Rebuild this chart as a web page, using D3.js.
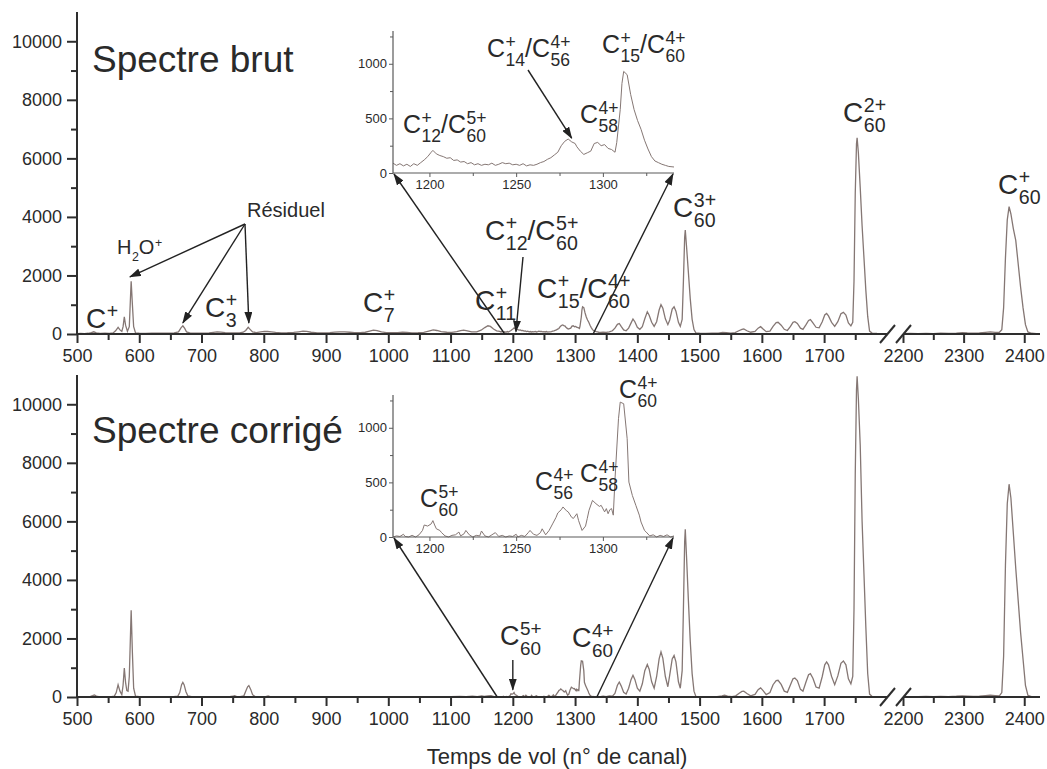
<!DOCTYPE html>
<html><head><meta charset="utf-8">
<script src="https://cdn.jsdelivr.net/npm/d3@7"></script>
<style>
body{margin:0;background:#fff}
text{font-family:"Liberation Sans",Arial,Helvetica,sans-serif;fill:#2a2a2a}
</style>
</head><body>
<svg id="c" width="1047" height="769"></svg>
<script>
// ---------------- DATA ----------------
const xTickMajor = [500,600,700,800,900,1000,1100,1200,1300,1400,1500,1600,1700,2200,2300,2400];
const xTickMinor = [550,650,750,850,950,1050,1150,1250,1350,1450,1550,1650,1750,2250,2350];
const yTickMajor = [0,2000,4000,6000,8000,10000];
const yTickMinor = [1000,3000,5000,7000,9000];
const insetXTicks = [1200,1250,1300];
const insetXMinor = [1225,1275,1325];
const insetYTicks = [0,500,1000];
const insetYMinor = [250,750,1250];

// Spectre brut : [canal, coups]
const rawSpectrum = [
[500,15],[506,20],[512,15],[518,25],[523,45],[527,75],[531,40],[537,20],[545,25],[552,20],[558,35],[562,110],[566,230],[569,140],[572,90],[574,250],[576,590],[578,300],[581,90],[584,250],[586,1300],[587,1800],[589,1000],[591,250],[594,40],[600,25],[610,20],[620,30],[632,25],[645,30],[656,35],[663,70],[667,210],[670,280],[673,190],[676,70],[682,30],[692,25],[702,30],[712,40],[719,55],[725,70],[731,65],[738,50],[746,40],[754,35],[761,40],[767,60],[771,120],[775,230],[778,160],[782,70],[788,50],[795,75],[801,90],[806,85],[812,75],[819,55],[828,40],[838,45],[848,55],[856,75],[863,95],[869,90],[876,60],[886,40],[896,40],[906,50],[914,65],[922,70],[930,70],[938,60],[946,50],[955,45],[963,60],[970,100],[976,130],[982,115],[989,70],[997,50],[1006,45],[1015,45],[1023,60],[1030,55],[1038,40],[1048,45],[1057,55],[1065,100],[1072,140],[1078,120],[1085,80],[1094,60],[1102,55],[1110,80],[1116,115],[1121,130],[1127,110],[1134,70],[1142,75],[1149,130],[1155,220],[1160,280],[1164,260],[1169,170],[1174,110],
[1179,90],[1181,70],[1183,85],[1185,65],[1187,80],[1189,60],[1191,85],[1193,70],[1195,95],[1197,120],[1199,150],[1201,190],[1202,207],[1204,175],[1206,160],[1208,150],[1210,135],[1212,140],[1214,115],[1216,120],[1218,100],[1220,105],[1222,85],[1224,95],[1226,75],[1228,85],[1230,70],[1232,80],[1234,75],[1236,90],[1238,70],[1240,80],[1242,95],[1244,85],[1246,90],[1248,75],[1250,80],[1252,70],[1254,85],[1256,65],[1258,75],[1260,70],[1262,80],[1264,95],[1266,105],[1268,125],[1270,140],[1272,165],[1274,190],[1276,250],[1278,290],[1280,311],[1282,285],[1284,270],[1285,240],[1287,200],[1289,170],[1291,185],[1293,200],[1295,270],[1297,280],[1299,250],[1301,260],[1303,225],[1305,215],[1307,190],[1308,280],[1310,580],[1311,820],[1312,930],[1314,900],[1316,720],[1318,580],[1320,480],[1322,400],[1324,300],[1326,220],[1328,150],[1330,110],[1332,95],[1334,80],[1336,70],[1338,60],[1341,55],
[1345,65],[1350,55],[1355,75],[1360,110],[1364,200],[1368,330],[1371,360],[1374,260],[1378,140],[1382,110],[1386,200],[1390,380],[1393,510],[1396,420],[1400,230],[1404,160],[1408,250],[1412,520],[1416,760],[1419,640],[1423,400],[1427,260],[1431,420],[1435,820],[1438,1000],[1441,880],[1445,520],[1449,320],[1452,480],[1456,850],[1459,930],[1462,780],[1466,400],[1469,260],[1472,500],[1474,1800],[1476,3300],[1477,3550],[1479,3000],[1482,2100],[1485,1200],[1488,500],[1491,150],[1494,40],[1500,25],[1510,20],[1520,25],[1530,30],[1537,55],[1543,45],[1550,30],[1557,50],[1563,110],[1568,160],[1571,170],[1576,110],[1582,60],[1589,90],[1594,200],[1598,250],[1602,170],[1607,80],[1613,100],[1618,260],[1623,390],[1626,400],[1631,300],[1636,160],[1641,120],[1646,260],[1650,400],[1653,420],[1657,360],[1662,200],[1666,160],[1671,320],[1675,460],[1678,490],[1682,380],[1687,230],[1692,210],[1697,420],[1701,650],[1704,700],[1707,620],[1712,400],[1717,260],[1722,420],[1727,690],[1731,740],[1735,650],[1739,380],[1743,280],[1746,400],[1748,1800],[1750,4800],[1752,6500],[1753,6700],[1755,6200],[1758,5000],[1761,3700],[1764,2600],[1767,1500],[1770,600],[1773,100],[1777,30],[1785,20],[1795,15],
[2200,15],[2212,20],[2225,15],[2238,20],[2250,15],[2262,25],[2275,20],[2288,30],[2298,45],[2306,35],[2316,30],[2326,35],[2336,55],[2344,70],[2352,55],[2359,60],[2363,150],[2366,900],[2369,2600],[2372,3900],[2375,4350],[2378,4100],[2382,3600],[2386,3200],[2390,2400],[2394,1600],[2398,900],[2402,320],[2406,70],[2412,25],[2420,15],[2426,15]
];

// Spectre corrigé : [canal, coups]
const corrSpectrum = [
[500,5],[508,10],[515,5],[521,15],[525,45],[528,70],[531,30],[537,5],[545,10],[553,5],[560,30],[563,150],[566,420],[569,200],[572,80],[574,400],[576,990],[578,500],[580,220],[582,200],[584,700],[586,2200],[587,2960],[589,1500],[591,300],[594,30],[600,10],[612,5],[625,10],[640,5],[655,10],[662,30],[665,150],[668,420],[670,500],[672,420],[675,180],[678,40],[684,10],[695,5],[710,10],[725,5],[738,10],[745,15],[750,25],[753,45],[756,20],[762,10],[768,40],[771,200],[774,350],[776,390],[779,260],[782,80],[786,15],[795,10],[803,15],[807,35],[810,15],[820,10],[840,5],[860,10],[880,5],[900,10],[925,5],[950,10],[975,5],[1000,10],[1020,5],[1040,10],[1060,15],[1080,10],[1100,10],[1115,20],[1125,10],[1135,25],[1143,15],[1150,40],[1154,20],[1160,35],[1165,45],[1170,15],[1175,10],
[1179,0],[1181,10],[1183,5],[1185,25],[1186,5],[1188,0],[1190,15],[1192,0],[1194,20],[1196,60],[1197,110],[1199,100],[1201,120],[1202,150],[1203,110],[1204,75],[1206,60],[1207,40],[1209,10],[1211,0],[1213,15],[1215,20],[1217,45],[1218,10],[1220,30],[1221,60],[1223,20],[1225,0],[1227,15],[1229,10],[1230,55],[1232,10],[1234,0],[1236,20],[1238,40],[1240,5],[1242,15],[1244,0],[1246,10],[1248,5],[1250,25],[1251,0],[1253,15],[1255,5],[1257,40],[1258,60],[1260,25],[1262,15],[1264,40],[1265,75],[1267,20],[1269,60],[1271,120],[1273,180],[1274,220],[1276,250],[1277,275],[1279,240],[1280,230],[1282,180],[1283,170],[1285,213],[1286,150],[1288,60],[1290,100],[1291,170],[1292,244],[1294,335],[1296,305],[1298,280],[1299,290],[1301,230],[1302,260],[1303,213],[1304,250],[1305,260],[1306,200],[1307,534],[1309,1083],[1310,1235],[1312,1220],[1314,900],[1315,503],[1317,380],[1319,290],[1321,200],[1322,137],[1324,60],[1325,45],[1327,10],[1329,20],[1331,0],[1333,15],[1335,5],[1337,20],[1339,0],[1341,10],
[1345,30],[1350,15],[1355,40],[1360,30],[1364,120],[1368,400],[1371,510],[1374,380],[1378,160],[1382,100],[1386,300],[1390,600],[1393,740],[1396,600],[1400,300],[1404,200],[1408,450],[1412,900],[1416,1110],[1419,950],[1423,520],[1427,300],[1431,700],[1435,1300],[1438,1540],[1441,1320],[1445,700],[1449,350],[1452,750],[1456,1300],[1459,1420],[1462,1200],[1466,520],[1469,300],[1472,900],[1474,3000],[1476,5300],[1477,5730],[1479,4800],[1482,3300],[1485,1900],[1488,800],[1491,200],[1494,20],[1502,10],[1515,5],[1528,10],[1536,40],[1540,60],[1545,30],[1552,15],[1558,40],[1563,120],[1568,190],[1571,200],[1576,120],[1582,40],[1589,90],[1594,250],[1598,310],[1602,220],[1607,80],[1613,150],[1618,420],[1623,560],[1626,570],[1631,430],[1636,200],[1641,160],[1646,420],[1650,620],[1653,650],[1657,560],[1662,260],[1666,200],[1671,520],[1675,760],[1678,800],[1682,640],[1687,340],[1692,300],[1697,700],[1701,1100],[1704,1200],[1707,1100],[1712,700],[1717,420],[1722,720],[1727,1150],[1731,1230],[1735,1100],[1739,620],[1743,450],[1746,700],[1748,3000],[1750,7600],[1752,10500],[1753,10960],[1755,10200],[1758,8600],[1761,6000],[1764,4200],[1767,2400],[1770,800],[1773,100],[1777,20],[1785,10],[1795,5],
[2200,10],[2212,15],[2225,10],[2238,20],[2250,10],[2262,20],[2275,15],[2288,25],[2298,40],[2306,30],[2316,20],[2326,30],[2336,50],[2344,65],[2352,50],[2359,40],[2363,150],[2366,1400],[2369,4500],[2372,6600],[2375,7270],[2378,6800],[2382,5600],[2386,4400],[2390,3300],[2394,2200],[2398,1300],[2402,400],[2406,60],[2412,15],[2420,10],[2426,10]
];

const zoomRange = [1179, 1341];
const titles = ["Spectre brut", "Spectre corrigé"];
const xTitle = "Temps de vol (n° de canal)";

// ---------------- DRAWING ----------------
const svg = d3.select("#c");
const LINE = "#857774", AX = "#2e2e2e", IAX = "#5a5a5a";
const x = d3.scaleLinear().domain([500, 1801, 2200, 2426]).range([77, 887, 903, 1040]);
const panels = [
  {y: d3.scaleLinear().domain([0, 11000]).range([334, 12]), data: rawSpectrum,
   iy: d3.scaleLinear().domain([0, 1300]).range([173, 31]), title: titles[0], ty: 72,
   zoomFrom: [1187, 1329]},
  {y: d3.scaleLinear().domain([0, 11000]).range([697, 375]), data: corrSpectrum,
   iy: d3.scaleLinear().domain([0, 1300]).range([537, 395]), title: titles[1], ty: 443,
   zoomFrom: [1175, 1335]}
];
const ix = d3.scaleLinear().domain(zoomRange).range([393, 674]);

const defs = svg.append("defs");
defs.append("marker").attr("id", "ah").attr("viewBox", "0 0 12 8").attr("refX", 11).attr("refY", 4)
  .attr("markerWidth", 12).attr("markerHeight", 8).attr("markerUnits", "userSpaceOnUse")
  .attr("orient", "auto").append("path").attr("d", "M0,0 L12,4 L0,8 Z").attr("fill", "#222");

function arrow(x1, y1, x2, y2) {
  svg.append("line").attr("x1", x1).attr("y1", y1).attr("x2", x2).attr("y2", y2)
    .attr("stroke", "#222").attr("stroke-width", 1.4).attr("marker-end", "url(#ah)");
}

function ion(x0, y0, size, segs, ratio) {
  const g = svg.append("g");
  let cx = x0;
  const ss = size * (ratio || 0.7);
  segs.forEach(s => {
    const t = g.append("text").attr("x", cx).attr("y", y0).style("font-size", size + "px").text(s.t);
    cx += t.node().getComputedTextLength();
    let sw = 0;
    if (s.sup) {
      const u = g.append("text").attr("x", cx + 0.5).attr("y", y0 - size * 0.36).style("font-size", ss + "px").text(s.sup);
      sw = Math.max(sw, u.node().getComputedTextLength() + 0.5);
    }
    if (s.sub) {
      const u = g.append("text").attr("x", cx + 0.5).attr("y", y0 + size * 0.37).style("font-size", ss + "px").text(s.sub);
      sw = Math.max(sw, u.node().getComputedTextLength() + 0.5);
    }
    cx += sw;
  });
}

const line = (xs, ys) => d3.line().x(d => xs(d[0])).y(d => ys(d[1]));

panels.forEach((p, pi) => {
  const y = p.y, y0 = y(0);
  svg.append("path").datum(p.data.filter(d => d[0] <= 1801))
    .attr("d", line(x, y)).attr("fill", "none").attr("stroke", LINE).attr("stroke-width", 1.3);
  svg.append("path").datum(p.data.filter(d => d[0] >= 2200))
    .attr("d", line(x, y)).attr("fill", "none").attr("stroke", LINE).attr("stroke-width", 1.3);

  const gx = svg.append("g").attr("transform", `translate(0,${y0})`)
    .call(d3.axisBottom(x).tickValues(xTickMajor).tickSize(9).tickPadding(6).tickFormat(d3.format("d")));
  gx.select(".domain").remove();
  gx.selectAll("line").attr("stroke", AX).attr("stroke-width", 2);
  gx.selectAll("text").style("font-size", "18px").attr("fill", "#2a2a2a");
  const gxm = svg.append("g").attr("transform", `translate(0,${y0})`)
    .call(d3.axisBottom(x).tickValues(xTickMinor).tickSize(6).tickFormat(""));
  gxm.select(".domain").remove();
  gxm.selectAll("line").attr("stroke", AX).attr("stroke-width", 2);
  svg.append("line").attr("x1", x(500) - 1).attr("x2", x(1801)).attr("y1", y0).attr("y2", y0).attr("stroke", AX).attr("stroke-width", 2);
  svg.append("line").attr("x1", x(2200)).attr("x2", x(2426)).attr("y1", y0).attr("y2", y0).attr("stroke", AX).attr("stroke-width", 2);
  [x(1801) - 7, x(2200) - 7].forEach(bx => {
    svg.append("line").attr("x1", bx).attr("y1", y0 + 9).attr("x2", bx + 15).attr("y2", y0 - 9)
      .attr("stroke", AX).attr("stroke-width", 2);
  });

  const gy = svg.append("g").attr("transform", `translate(${x(500)},0)`)
    .call(d3.axisLeft(y).tickValues(yTickMajor).tickSize(10).tickPadding(5).tickFormat(d3.format("d")));
  gy.select(".domain").attr("stroke", AX).attr("stroke-width", 2).attr("d", `M0,${y0}V${y(11000)}`);
  gy.selectAll("line").attr("stroke", AX).attr("stroke-width", 2);
  gy.selectAll("text").style("font-size", "18px").attr("fill", "#2a2a2a");
  const gym = svg.append("g").attr("transform", `translate(${x(500)},0)`)
    .call(d3.axisLeft(y).tickValues(yTickMinor).tickSize(6).tickFormat(""));
  gym.select(".domain").remove();
  gym.selectAll("line").attr("stroke", AX).attr("stroke-width", 2);

  svg.append("text").attr("x", 92).attr("y", p.ty).style("font-size", "37px").attr("fill", "#2a2a2a").text(p.title);

  const iy = p.iy, iy0 = iy(0);
  svg.append("path").datum(p.data.filter(d => d[0] >= zoomRange[0] && d[0] <= zoomRange[1]))
    .attr("d", line(ix, iy)).attr("fill", "none").attr("stroke", LINE).attr("stroke-width", 1);
  const ixa = svg.append("g").attr("transform", `translate(0,${iy0})`)
    .call(d3.axisBottom(ix).tickValues(insetXTicks).tickSize(4).tickPadding(3).tickFormat(d3.format("d")));
  ixa.select(".domain").attr("stroke", IAX).attr("stroke-width", 1.2).attr("d", `M${ix(zoomRange[0])},0H${ix(zoomRange[1])}`);
  ixa.selectAll("line").attr("stroke", IAX);
  ixa.selectAll("text").style("font-size", "13px").attr("fill", "#333");
  const ixm = svg.append("g").attr("transform", `translate(0,${iy0})`)
    .call(d3.axisBottom(ix).tickValues(insetXMinor).tickSize(3).tickFormat(""));
  ixm.select(".domain").remove();
  ixm.selectAll("line").attr("stroke", IAX);
  const iya = svg.append("g").attr("transform", `translate(${ix(zoomRange[0])},0)`)
    .call(d3.axisLeft(iy).tickValues(insetYTicks).tickSize(4).tickPadding(2).tickFormat(d3.format("d")));
  iya.select(".domain").attr("stroke", IAX).attr("stroke-width", 1.2).attr("d", `M0,${iy0}V${iy(1300)}`);
  iya.selectAll("line").attr("stroke", IAX);
  iya.selectAll("text").style("font-size", "13px").attr("fill", "#333");
  const iym = svg.append("g").attr("transform", `translate(${ix(zoomRange[0])},0)`)
    .call(d3.axisLeft(iy).tickValues(insetYMinor).tickSize(3).tickFormat(""));
  iym.select(".domain").remove();
  iym.selectAll("line").attr("stroke", IAX);

  arrow(x(p.zoomFrom[0]), y0, ix(zoomRange[0]) + 1, iy0 + 1);
  arrow(x(p.zoomFrom[1]), y0, ix(zoomRange[1]) - 1, iy0 + 1);
});

// ---- annotations top panel ----
const T = panels[0], B = panels[1];
ion(86, 328, 28, [{t: "C", sup: "+"}]);
ion(117, 254, 20, [{t: "H", sub: "2"}, {t: "O", sup: "+"}], 0.62);
svg.append("text").attr("x", 247).attr("y", 217).style("font-size", "20px").text("Résiduel");
arrow(245, 224, x(585), T.y(1950));
arrow(245, 224, x(670), T.y(380));
arrow(245, 224, x(776), T.y(380));
ion(205, 317, 28, [{t: "C", sup: "+", sub: "3"}]);
ion(363, 312, 28, [{t: "C", sup: "+", sub: "7"}]);
ion(475, 310, 28, [{t: "C", sup: "+", sub: "11"}]);
ion(485, 240, 28, [{t: "C", sup: "+", sub: "12"}, {t: "/C", sup: "5+", sub: "60"}]);
arrow(523, 257, x(1205), T.y(80));
ion(537, 298, 28, [{t: "C", sup: "+", sub: "15"}, {t: "/C", sup: "4+", sub: "60"}]);
ion(673, 217, 28, [{t: "C", sup: "3+", sub: "60"}]);
ion(843, 122, 28, [{t: "C", sup: "2+", sub: "60"}]);
ion(998, 194, 28, [{t: "C", sup: "+", sub: "60"}]);
// top inset
ion(403, 133, 25, [{t: "C", sup: "+", sub: "12"}, {t: "/C", sup: "5+", sub: "60"}]);
ion(487, 57, 25, [{t: "C", sup: "+", sub: "14"}, {t: "/C", sup: "4+", sub: "56"}]);
arrow(528, 70, ix(1282), T.iy(320));
ion(602, 53, 25, [{t: "C", sup: "+", sub: "15"}, {t: "/C", sup: "4+", sub: "60"}]);
ion(580, 123, 25, [{t: "C", sup: "4+", sub: "58"}]);

// ---- annotations bottom panel ----
ion(500, 645, 27, [{t: "C", sup: "5+", sub: "60"}]);
arrow(x(1200), 660, x(1200), B.y(250));
ion(572, 647, 27, [{t: "C", sup: "4+", sub: "60"}]);
ion(420, 507, 25, [{t: "C", sup: "5+", sub: "60"}]);
ion(535, 490, 25, [{t: "C", sup: "4+", sub: "56"}]);
ion(580, 482, 25, [{t: "C", sup: "4+", sub: "58"}]);
ion(619, 398, 25, [{t: "C", sup: "4+", sub: "60"}]);

svg.append("text").attr("x", 557).attr("y", 764).attr("text-anchor", "middle")
  .style("font-size", "22px").text(xTitle);
</script>
</body></html>
